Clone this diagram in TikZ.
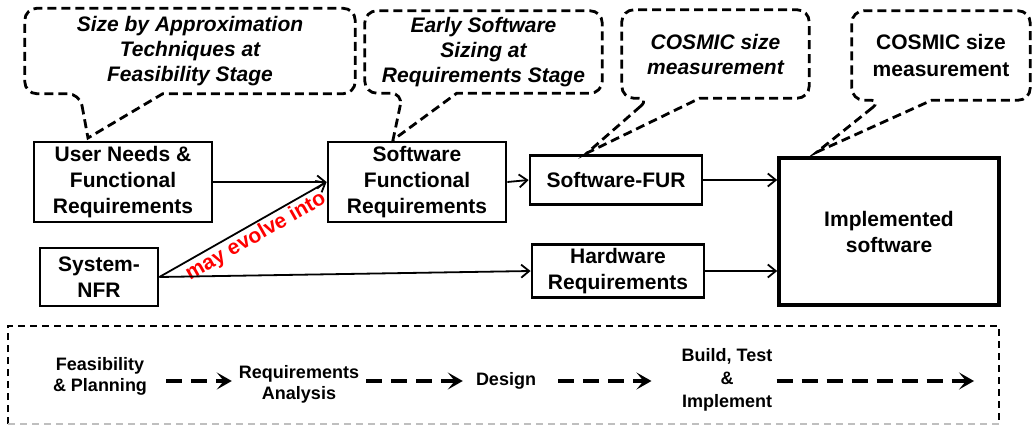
\documentclass[tikz,border=0pt]{standalone}
\usepackage{fontspec}
\setmainfont{Liberation Sans}
\usetikzlibrary{arrows.meta,calc}
\begin{document}
\begin{tikzpicture}[x=1pt,y=-1pt,
  box/.style={draw, line width=2.8pt, align=center, inner sep=0pt, font=\fontsize{21}{26}\selectfont\bfseries},
  callout/.style={draw, line width=2.8pt, dash pattern=on 9pt off 5pt, rounded corners=12pt},
  ctext/.style={align=center, inner sep=0pt, font=\fontsize{21}{25}\selectfont\bfseries\itshape},
  conn/.style={line width=1.8pt, -{Straight Barb[length=8pt,width=13pt]}},
  phase/.style={align=center, inner sep=0pt, font=\fontsize{18}{21}\selectfont\bfseries},
  phasearrow/.style={line width=4pt, dash pattern=on 16pt off 9pt, -{Stealth[length=15pt,width=17pt,inset=7pt]}},
  bframe/.style={line width=2pt, dash pattern=on 7pt off 5pt},
]
\useasboundingbox (0,0) rectangle (1033,425);

% main boxes
\node[box, minimum width=178pt, minimum height=80pt] (un) at (123,182) {User Needs \&\\Functional\\Requirements};
\node[box, minimum width=178pt, minimum height=80pt] (sfr) at (417,182) {Software\\Functional\\Requirements};
\node[box, minimum width=118pt, minimum height=58pt] (nfr) at (99,277) {System-\\NFR};
\node[box, minimum width=172pt, minimum height=49pt] (fur) at (616,180) {Software-FUR};
\node[box, minimum width=172pt, minimum height=53pt] (hw) at (618,271) {Hardware\\Requirements};
\node[box, line width=3.6pt, minimum width=220pt, minimum height=147pt] (impl) at (889,231.5) {Implemented\\software};

% callouts
\node[ctext, minimum width=330pt, minimum height=85pt] (c1) at (190,51) {Size by Approximation\\Techniques at\\Feasibility Stage};
\node[ctext, minimum width=237pt, minimum height=82pt] (c2) at (483.5,52) {Early Software\\Sizing at\\Requirements Stage};
\node[ctext, minimum width=187pt, minimum height=88pt] (c3) at (715.5,54) {COSMIC size\\measurement};
\node[ctext, font=\fontsize{21}{27}\selectfont\bfseries, minimum width=178pt, minimum height=89pt] (c4) at (941,55.5) {COSMIC size\\measurement};

\coordinate (t1) at (88,138);
\coordinate (t2) at (393,140);
\coordinate (t3) at (587,153);
\coordinate (t4) at (817,152);

\draw[callout] ($(c1.south west)+(55,0)$) [sharp corners] -- (t1) -- ($(c1.south west)+(138,0)$) [rounded corners=12pt] -- (c1.south east) -- (c1.north east) -- (c1.north west) -- (c1.south west) -- cycle;
\draw[callout] ($(c2.south west)+(38,0)$) [sharp corners] -- (t2) -- ($(c2.south west)+(92,0)$) [rounded corners=12pt] -- (c2.south east) -- (c2.north east) -- (c2.north west) -- (c2.south west) -- cycle;
\draw[callout] ($(c3.south west)+(28,0)$) [sharp corners] -- (t3) -- ($(c3.south west)+(78,0)$) [rounded corners=12pt] -- (c3.south east) -- (c3.north east) -- (c3.north west) -- (c3.south west) -- cycle;
\draw[callout] ($(c4.south west)+(30,0)$) [sharp corners] -- (t4) -- ($(c4.south west)+(80,0)$) [rounded corners=12pt] -- (c4.south east) -- (c4.north east) -- (c4.north west) -- (c4.south west) -- cycle;

% connectors
\draw[conn] (un) -- (sfr);
\draw[conn] (nfr.east) -- node[sloped, anchor=north, pos=0.54, inner sep=2pt, text=red, font=\fontsize{21}{24}\selectfont\bfseries] {may evolve into} (sfr.west);
\draw[conn] (nfr.east) -- (hw.west);
\draw[conn] (sfr.east) -- (fur.west);
\draw[conn] (fur.east) -- (fur.east -| impl.west);
\draw[conn] (hw.east) -- (hw.east -| impl.west);

% lifecycle frame
\draw[bframe] (8,424) -- (8,326) -- (999,326) -- (999,424);
\draw[bframe, black!25] (8,424) -- (999,424);

\node[phase] (p1) at (100,376) {Feasibility\\\& Planning};
\node[phase] (p2) at (299,384) {Requirements\\Analysis};
\node[phase] (p3) at (506,381) {Design};
\node[phase, font=\fontsize{18}{23}\selectfont\bfseries] (p4) at (727,380) {Build, Test\\\&\\Implement};
\coordinate (ay) at (0,381);
\coordinate (pend) at (974,381);

\draw[phasearrow] ($(p1.east|-ay)+(19,0)$) -- ($(p2.west|-ay)+(-7,0)$);
\draw[phasearrow] ($(p2.east|-ay)+(7,0)$) -- ($(p3.west|-ay)+(-13,0)$);
\draw[phasearrow] ($(p3.east|-ay)+(22,0)$) -- ($(p4.west|-ay)+(-30,0)$);
\draw[phasearrow] ($(p4.east|-ay)+(4,0)$) -- (pend);
\end{tikzpicture}
\end{document}
